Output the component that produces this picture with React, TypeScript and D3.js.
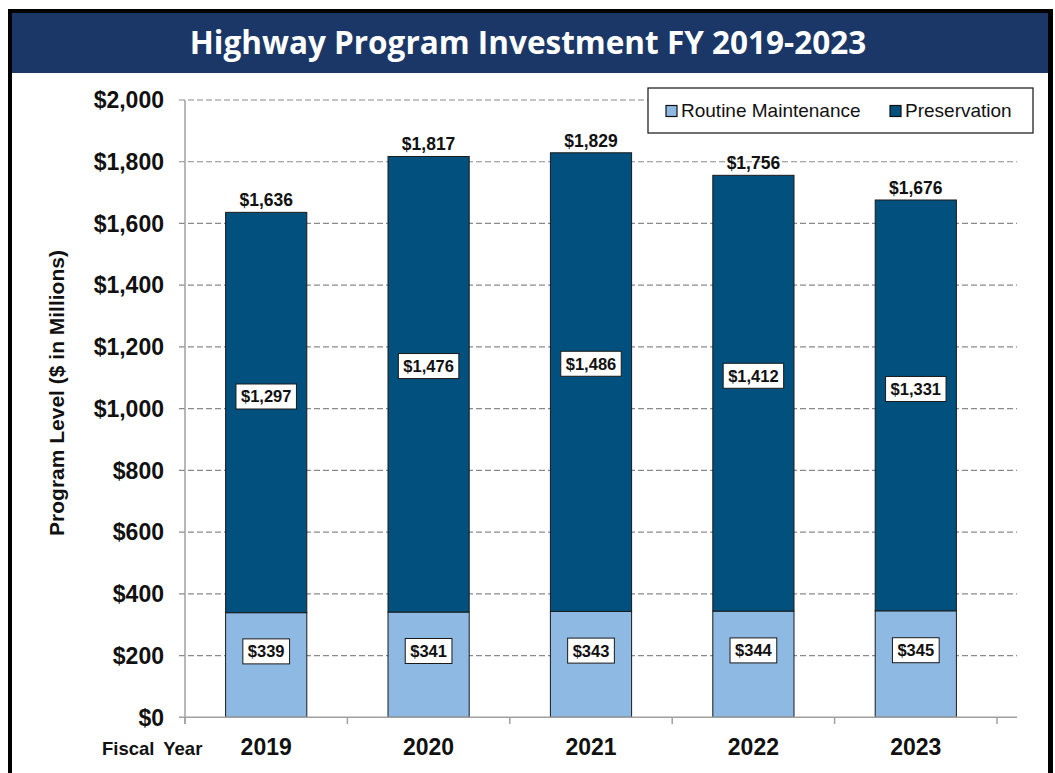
import React, { useEffect, useRef } from "react";
import * as d3 from "d3";

const years = ["2019", "2020", "2021", "2022", "2023"];
const routine = [339, 341, 343, 344, 345];
const preservation = [1297, 1476, 1486, 1412, 1331];
const totals = [1636, 1817, 1829, 1756, 1676];
const yTicks = [0, 200, 400, 600, 800, 1000, 1200, 1400, 1600, 1800, 2000];
const seriesKeys = ["routine", "preservation"];
const seriesNames = ["Routine Maintenance", "Preservation"];
const seriesColors = ["#8db9e3", "#02507d"];
const labelFrac = [0.63, 0.54];
const title = "Highway Program Investment FY 2019-2023";
const yTitle = "Program Level ($ in Millions)";
const xTitle = "Fiscal Year";

const W = 1055;
const H = 773;
const FONT = "'Liberation Sans', Arial, Helvetica, sans-serif";

export default function App() {
  const ref = useRef<SVGSVGElement | null>(null);

  useEffect(() => {
    const svg = d3.select(ref.current);
    svg.selectAll("*").remove();

    // frame
    svg.append("rect").attr("x", 8).attr("y", 9).attr("width", 1045).attr("height", H).attr("fill", "#000");
    svg.append("rect").attr("x", 12).attr("y", 13).attr("width", 1036).attr("height", H).attr("fill", "#fff");
    svg.append("rect").attr("x", 12).attr("y", 13).attr("width", 1036).attr("height", 60).attr("fill", "#1a3767");
    svg.append("text")
      .attr("x", 528).attr("y", 54)
      .attr("text-anchor", "middle")
      .attr("fill", "#fff")
      .attr("font-family", "'Open Sans', 'Noto Sans', sans-serif")
      .attr("font-weight", 700)
      .attr("font-size", 31.5)
      .text(title);

    const y = d3.scaleLinear().domain([0, 2000]).range([717.3, 100]);
    const x = d3.scaleBand<string>().domain(years).range([185, 997]).paddingInner(0.5).paddingOuter(0.25);
    const gridRight = 1017;
    const axisColor = "#a0a0a0";

    // gridlines
    svg.append("g").selectAll("line").data(yTicks.filter((t) => t > 0)).join("line")
      .attr("x1", 179).attr("x2", gridRight)
      .attr("y1", (d) => y(d)).attr("y2", (d) => y(d))
      .attr("stroke", "#8a8a8a").attr("stroke-width", 1.2)
      .attr("stroke-dasharray", "6,3");

    // y axis labels
    svg.append("g").selectAll("text").data(yTicks).join("text")
      .attr("x", 164).attr("y", (d) => y(d))
      .attr("dy", "0.36em")
      .attr("text-anchor", "end")
      .attr("font-family", FONT).attr("font-weight", 700).attr("font-size", 23)
      .attr("fill", "#111")
      .text((d) => d3.format("$,")(d));

    // stacked bars
    const table = years.map((yr, i) => ({ year: yr, routine: routine[i], preservation: preservation[i] }));
    const stacked = d3.stack<any>().keys(seriesKeys)(table);

    stacked.forEach((s, si) => {
      svg.append("g").selectAll("rect").data(s).join("rect")
        .attr("x", (d: any) => x(d.data.year)!)
        .attr("width", x.bandwidth())
        .attr("y", (d: any) => y(d[1]))
        .attr("height", (d: any) => y(d[0]) - y(d[1]))
        .attr("fill", seriesColors[si])
        .attr("stroke", "#1a1a1a").attr("stroke-width", 1);
    });

    // axes lines
    svg.append("line").attr("x1", 185).attr("x2", 185).attr("y1", 100).attr("y2", 724)
      .attr("stroke", axisColor).attr("stroke-width", 1.5);
    svg.append("line").attr("x1", 179).attr("x2", gridRight).attr("y1", y(0)).attr("y2", y(0))
      .attr("stroke", axisColor).attr("stroke-width", 1.5);
    const bandEdges = years.map((yr) => x(yr)! - (x.step() - x.bandwidth()) / 2).concat([997]);
    svg.append("g").selectAll("line").data(bandEdges).join("line")
      .attr("x1", (d) => d).attr("x2", (d) => d)
      .attr("y1", y(0)).attr("y2", 724)
      .attr("stroke", axisColor).attr("stroke-width", 1.5);

    // segment labels
    stacked.forEach((s, si) => {
      s.forEach((d: any) => {
        const cx = x(d.data.year)! + x.bandwidth() / 2;
        const v = d[0] + (d[1] - d[0]) * labelFrac[si];
        const cy = y(v);
        const g = svg.append("g");
        const r = g.append("rect").attr("fill", "#fff").attr("stroke", "#1a1a1a").attr("stroke-width", 1);
        const t = g.append("text")
          .attr("x", cx).attr("y", cy).attr("dy", "0.36em")
          .attr("text-anchor", "middle")
          .attr("font-family", FONT).attr("font-weight", 700).attr("font-size", 16.5)
          .attr("fill", "#111")
          .text(d3.format("$,")(d.data[seriesKeys[si]]));
        const w = (t.node() as SVGTextElement).getComputedTextLength();
        r.attr("x", cx - w / 2 - 5).attr("y", cy - 12.5).attr("width", w + 10).attr("height", 25);
      });
    });

    // totals
    svg.append("g").selectAll("text").data(years).join("text")
      .attr("x", (d) => x(d)! + x.bandwidth() / 2)
      .attr("y", (d, i) => y(totals[i]) - 6)
      .attr("text-anchor", "middle")
      .attr("font-family", FONT).attr("font-weight", 700).attr("font-size", 17.5)
      .attr("fill", "#111")
      .text((d, i) => d3.format("$,")(totals[i]));

    // x labels
    svg.append("g").selectAll("text").data(years).join("text")
      .attr("x", (d) => x(d)! + x.bandwidth() / 2)
      .attr("y", 755)
      .attr("text-anchor", "middle")
      .attr("font-family", FONT).attr("font-weight", 700).attr("font-size", 23)
      .attr("fill", "#111")
      .text((d) => d);

    svg.append("text")
      .attr("x", 102).attr("y", 755)
      .attr("font-family", FONT).attr("font-weight", 700).attr("font-size", 18.5)
      .attr("word-spacing", 4)
      .attr("fill", "#111")
      .text(xTitle);

    svg.append("text")
      .attr("transform", "translate(64,393) rotate(-90)")
      .attr("text-anchor", "middle")
      .attr("font-family", FONT).attr("font-weight", 700).attr("font-size", 21)
      .attr("fill", "#111")
      .text(yTitle);

    // legend
    const lg = svg.append("g");
    lg.append("rect").attr("x", 648).attr("y", 88).attr("width", 385).attr("height", 45)
      .attr("fill", "#fff").attr("stroke", "#111").attr("stroke-width", 1.2);
    const legendX = [666, 890];
    seriesNames.forEach((name, i) => {
      lg.append("rect").attr("x", legendX[i]).attr("y", 105.5).attr("width", 11).attr("height", 11)
        .attr("fill", seriesColors[i]).attr("stroke", "#111").attr("stroke-width", 1.2);
      lg.append("text").attr("x", legendX[i] + 15).attr("y", 117)
        .attr("font-family", FONT).attr("font-size", 19).attr("fill", "#111")
        .text(name);
    });
  }, []);

  return (
    <div style={{ position: "fixed", left: 0, top: 0, width: W, height: H, overflow: "hidden" }}>
      <svg ref={ref} width={W} height={H} style={{ display: "block", background: "#fff" }} />
    </div>
  );
}
